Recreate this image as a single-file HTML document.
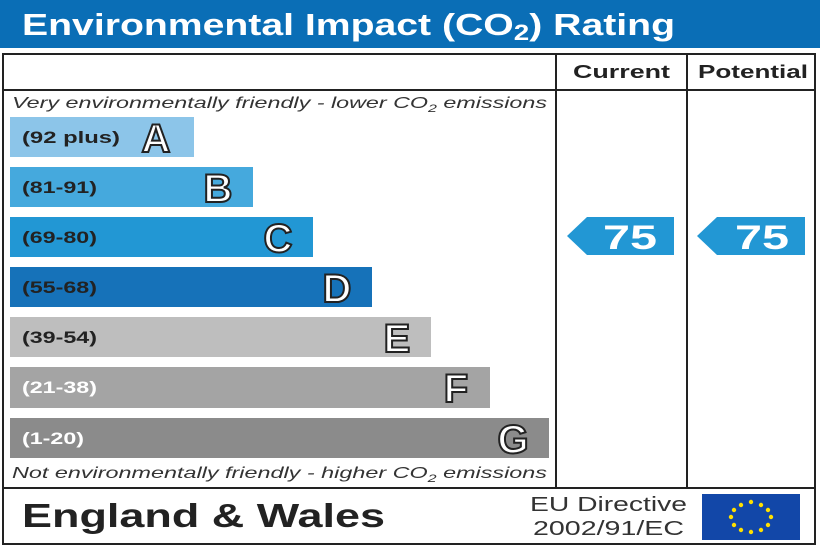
<!DOCTYPE html>
<html><head><style>body{margin:0;background:#fff}svg{display:block}</style></head><body>
<svg width="820" height="547" viewBox="0 0 820 547" xmlns="http://www.w3.org/2000/svg" font-family="Liberation Sans, Arial, sans-serif">
<rect x="0" y="0" width="820" height="48" fill="#0a6eb6"/>
<text x="22" y="35" font-size="31" font-weight="bold" fill="#fff" textLength="653" lengthAdjust="spacingAndGlyphs">Environmental Impact (CO<tspan font-size="22" dy="5">2</tspan><tspan dy="-5">) Rating</tspan></text>
<rect x="3" y="54" width="812" height="490" fill="none" stroke="#222" stroke-width="2"/>
<line x1="3" y1="90" x2="815" y2="90" stroke="#222" stroke-width="2"/>
<line x1="3" y1="488" x2="815" y2="488" stroke="#222" stroke-width="2"/>
<line x1="556" y1="54" x2="556" y2="488" stroke="#222" stroke-width="2"/>
<line x1="687" y1="54" x2="687" y2="488" stroke="#222" stroke-width="2"/>
<text x="573" y="78" font-size="18" font-weight="bold" fill="#222" textLength="97" lengthAdjust="spacingAndGlyphs">Current</text>
<text x="698" y="78" font-size="18" font-weight="bold" fill="#222" textLength="110" lengthAdjust="spacingAndGlyphs">Potential</text>
<text x="12" y="108" font-size="16" font-style="italic" fill="#333" textLength="535" lengthAdjust="spacingAndGlyphs">Very environmentally friendly - lower CO<tspan font-size="11" dy="4">2</tspan><tspan dy="-4"> emissions</tspan></text>
<text x="12" y="478" font-size="16" font-style="italic" fill="#333" textLength="535" lengthAdjust="spacingAndGlyphs">Not environmentally friendly - higher CO<tspan font-size="11" dy="4">2</tspan><tspan dy="-4"> emissions</tspan></text>
<g font-weight="bold">
<rect x="10" y="117" width="184" height="40" fill="#8cc5e9"/>
<text x="22" y="143" font-size="17" fill="#222" textLength="98" lengthAdjust="spacingAndGlyphs">(92 plus)</text>
<text x="156" y="152" font-size="40" text-anchor="middle" fill="#fff" stroke="#222" stroke-width="2">A</text>
<rect x="10" y="167" width="243" height="40" fill="#45a9dd"/>
<text x="22" y="193" font-size="17" fill="#222" textLength="75" lengthAdjust="spacingAndGlyphs">(81-91)</text>
<text x="218" y="202" font-size="40" text-anchor="middle" fill="#fff" stroke="#222" stroke-width="2">B</text>
<rect x="10" y="217" width="303" height="40" fill="#2297d4"/>
<text x="22" y="243" font-size="17" fill="#222" textLength="75" lengthAdjust="spacingAndGlyphs">(69-80)</text>
<text x="278" y="252" font-size="40" text-anchor="middle" fill="#fff" stroke="#222" stroke-width="2">C</text>
<rect x="10" y="267" width="362" height="40" fill="#1672b9"/>
<text x="22" y="293" font-size="17" fill="#222" textLength="75" lengthAdjust="spacingAndGlyphs">(55-68)</text>
<text x="337" y="302" font-size="40" text-anchor="middle" fill="#fff" stroke="#222" stroke-width="2">D</text>
<rect x="10" y="317" width="421" height="40" fill="#bebebe"/>
<text x="22" y="343" font-size="17" fill="#222" textLength="75" lengthAdjust="spacingAndGlyphs">(39-54)</text>
<text x="397" y="352" font-size="40" text-anchor="middle" fill="#fff" stroke="#222" stroke-width="2">E</text>
<rect x="10" y="367" width="480" height="41" fill="#a4a4a4"/>
<text x="22" y="393" font-size="17" fill="#fff" textLength="75" lengthAdjust="spacingAndGlyphs">(21-38)</text>
<text x="456" y="402" font-size="40" text-anchor="middle" fill="#fff" stroke="#222" stroke-width="2">F</text>
<rect x="10" y="418" width="539" height="40" fill="#8b8b8b"/>
<text x="22" y="444" font-size="17" fill="#fff" textLength="62" lengthAdjust="spacingAndGlyphs">(1-20)</text>
<text x="513" y="453" font-size="40" text-anchor="middle" fill="#fff" stroke="#222" stroke-width="2">G</text>
<polygon points="567,236 587,217 674,217 674,255 587,255" fill="#2297d4"/>
<text x="630" y="249" font-size="34" text-anchor="middle" fill="#fff" textLength="54" lengthAdjust="spacingAndGlyphs">75</text>
<polygon points="697,236 717,217 805,217 805,255 717,255" fill="#2297d4"/>
<text x="762" y="249" font-size="34" text-anchor="middle" fill="#fff" textLength="54" lengthAdjust="spacingAndGlyphs">75</text>
</g>
<text x="22" y="527" font-size="33" font-weight="bold" fill="#222" textLength="363" lengthAdjust="spacingAndGlyphs">England &amp; Wales</text>
<text x="530" y="511" font-size="20" fill="#333" textLength="157" lengthAdjust="spacingAndGlyphs">EU Directive</text>
<text x="533" y="535" font-size="20" fill="#333" textLength="151" lengthAdjust="spacingAndGlyphs">2002/91/EC</text>
<rect x="702" y="494" width="98" height="46" fill="#1247a8"/>
<g fill="#ffe000">
<circle cx="751" cy="502" r="2.2"/><circle cx="761" cy="505" r="2.2"/><circle cx="768" cy="510" r="2.2"/><circle cx="771" cy="517" r="2.2"/><circle cx="768" cy="525" r="2.2"/><circle cx="761" cy="530" r="2.2"/><circle cx="751" cy="532" r="2.2"/><circle cx="741" cy="530" r="2.2"/><circle cx="734" cy="525" r="2.2"/><circle cx="731" cy="517" r="2.2"/><circle cx="734" cy="510" r="2.2"/><circle cx="741" cy="505" r="2.2"/>
</g>
</svg>
</body></html>
